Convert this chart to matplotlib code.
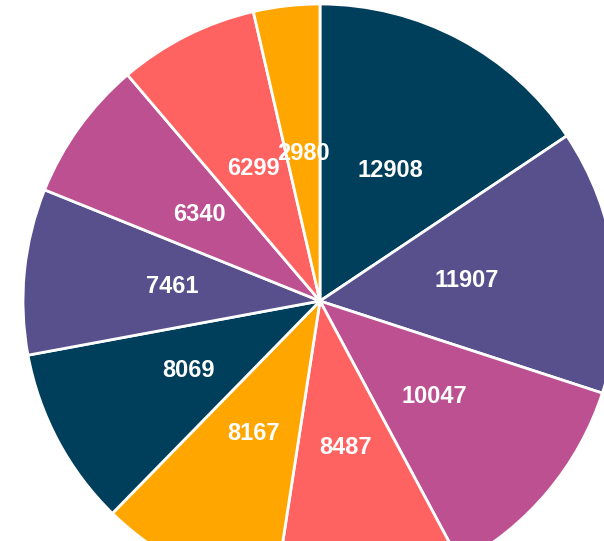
import matplotlib
matplotlib.use("Agg")
import matplotlib.pyplot as plt

# Slice values, clockwise from 12 o'clock
values = [12908, 11907, 10047, 8487, 8167, 8069, 7461, 6340, 6299, 2980]
palette = ["#003f5c", "#58508d", "#bc5090", "#ff6361", "#ffa600"]
colors = [palette[i % len(palette)] for i in range(len(values))]
labels = [str(v) for v in values]

fig = plt.figure(figsize=(6.04, 5.41), dpi=100)
ax = fig.add_axes([0, 0, 1, 1])

# pie is bigger than the figure, so work in pixel coordinates
wedges, texts = ax.pie(
    values,
    colors=colors,
    labels=labels,
    labeldistance=0.5,
    startangle=90,
    counterclock=False,
    center=(320, 240),
    radius=297,
    wedgeprops=dict(edgecolor="white", linewidth=2),
    textprops=dict(color="white", fontsize=17, fontweight="bold",
                   family="Liberation Sans"),
    frame=True,
)
for t in texts:
    t.set_horizontalalignment("center")
    t.set_verticalalignment("center")

ax.set_xlim(0, 604)
ax.set_ylim(0, 541)
ax.set_aspect("equal")
ax.axis("off")

fig.savefig("out.png", dpi=100)
